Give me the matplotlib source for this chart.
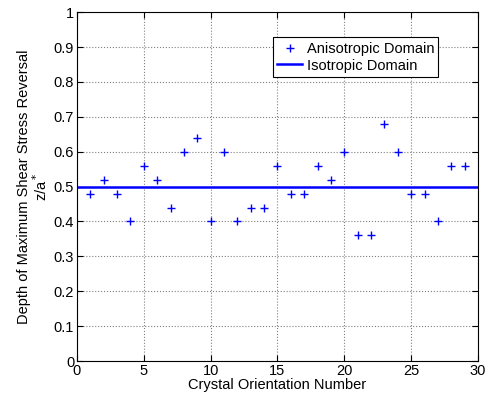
import numpy as np
import matplotlib
matplotlib.use('Agg')
import matplotlib.pyplot as plt

plt.rcParams['font.family'] = ['Liberation Sans', 'DejaVu Sans']
plt.rcParams['font.size'] = 10.5

orientation = np.arange(1, 30)
depth = [0.48, 0.52, 0.48, 0.40, 0.56, 0.52, 0.44, 0.60, 0.64, 0.40,
         0.60, 0.40, 0.44, 0.44, 0.56, 0.48, 0.48, 0.56, 0.52, 0.60,
         0.36, 0.36, 0.68, 0.60, 0.48, 0.48, 0.40, 0.56, 0.56]
isotropic_depth = 0.5
x_limits = [0, 30]

fig = plt.figure(figsize=(4.92, 4.04), dpi=100)
ax = fig.add_axes([0.1565, 0.1064, 0.815, 0.8636])

ax.plot(orientation, depth, '+', color='#0000ff', markersize=6, markeredgewidth=1,
        label='Anisotropic Domain')
ax.plot(x_limits, [isotropic_depth, isotropic_depth], '-', color='#0000ff', linewidth=1.8,
        label='Isotropic Domain')

ax.set_xlim(0, 30)
ax.set_ylim(0, 1)
ax.set_xticks(np.arange(0, 31, 5))
ax.set_yticks(np.arange(0, 1.01, 0.1))
ax.set_yticklabels(['0', '0.1', '0.2', '0.3', '0.4', '0.5', '0.6', '0.7', '0.8', '0.9', '1'])
ax.grid(True, linestyle=':', color='#808080', linewidth=0.8)
ax.tick_params(direction='in', top=True, right=True, length=4, width=0.8, pad=2)
for s in ax.spines.values():
    s.set_linewidth(0.8)

ax.set_xlabel('Crystal Orientation Number', labelpad=0)
ax.set_ylabel('Depth of Maximum Shear Stress Reversal\nz/a$^*$', labelpad=3,
              linespacing=1.0)

leg = ax.legend(loc='upper left', bbox_to_anchor=(0.489, 0.928), fancybox=False,
                framealpha=1, edgecolor='black', borderpad=0.3, handlelength=1.7,
                handletextpad=0.3, labelspacing=0.2, borderaxespad=0)
leg.get_frame().set_linewidth(0.8)

fig.savefig('out.png', dpi=100)
